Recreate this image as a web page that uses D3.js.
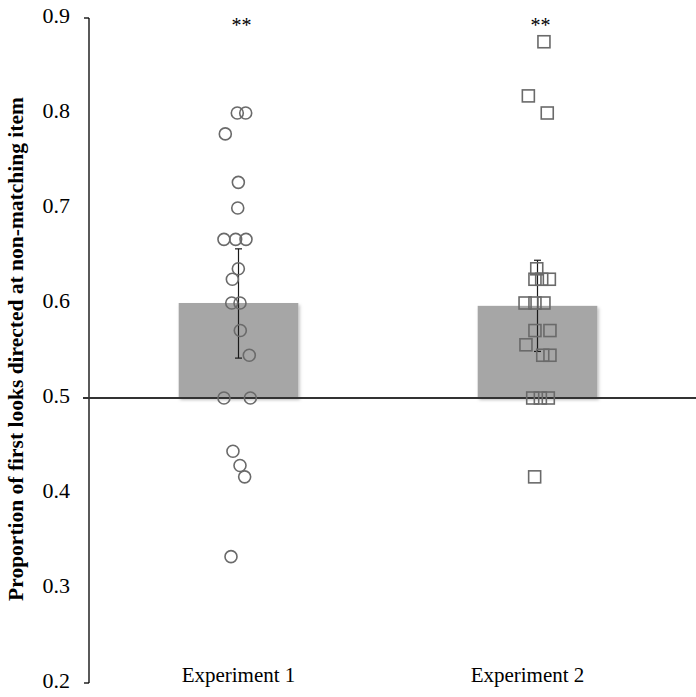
<!DOCTYPE html>
<html>
<head>
<meta charset="utf-8">
<script src="https://cdn.jsdelivr.net/npm/d3@7"></script>
<style>
  html, body { margin: 0; padding: 0; background: #fff; }
  svg { display: block; }
  svg text { font-family: "Liberation Serif", "Times New Roman", serif !important; }
</style>
</head>
<body>
<svg id="chart" width="696" height="697"></svg>
<script>
// ---- Data ----
const categories = ["Experiment 1", "Experiment 2"];
const barMeans = [0.600, 0.597];
const errLow = [0.542, 0.549];
const errHigh = [0.657, 0.645];
const significance = ["**", "**"];
const yTicks = [0.2, 0.3, 0.4, 0.5, 0.6, 0.7, 0.8, 0.9];
const chanceLevel = 0.5;

// Individual participant proportions (Experiment 1, circles)
const exp1Values = [0.800, 0.800, 0.778, 0.727, 0.700, 0.667, 0.667, 0.667, 0.636, 0.625,
                    0.600, 0.600, 0.571, 0.545, 0.500, 0.500, 0.444, 0.429, 0.417, 0.333];
// horizontal jitter in units of [-1, 1]
const exp1Jitter = [-0.08, 0.48, -0.88, -0.01, -0.05, -0.97, -0.19, 0.50, -0.01, -0.41,
                    -0.45, 0.10, 0.12, 0.72, -0.97, 0.79, -0.37, 0.10, 0.41, -0.50];

// Individual participant proportions (Experiment 2, squares)
const exp2Values = [0.875, 0.818, 0.800, 0.636, 0.625, 0.625, 0.625, 0.600, 0.600, 0.600,
                    0.571, 0.571, 0.556, 0.545, 0.545, 0.500, 0.500, 0.500, 0.417];
const exp2Jitter = [0.43, -0.61, 0.65, -0.05, -0.17, 0.28, 0.79, -0.83, -0.17, 0.43,
                    -0.17, 0.83, -0.77, 0.35, 0.83, -0.32, 0.19, 0.72, -0.19];

const yTitle = "Proportion of first looks directed at non-matching item";

// ---- Layout ----
const serif = "'Liberation Serif', 'Times New Roman', serif";
const svg = d3.select("#chart");
const axisX = 89;
const y = d3.scaleLinear().domain([0.2, 0.9]).range([683, 18]);
const x = d3.scaleBand().domain(categories).range([axisX, 687]).paddingInner(0.6).paddingOuter(0.3);
const jit = d3.scaleLinear().domain([-1, 1]).range([-15, 15]);

// shadow filter
const defs = svg.append("defs");
const f = defs.append("filter").attr("id", "shadow").attr("x", "-10%").attr("y", "-10%").attr("width", "130%").attr("height", "130%");
f.append("feDropShadow").attr("dx", 1.5).attr("dy", 2).attr("stdDeviation", 1.5)
  .attr("flood-color", "#000").attr("flood-opacity", 0.25);

// bars (from chance level to mean)
svg.append("g").selectAll("rect").data(categories).join("rect")
  .attr("x", d => x(d))
  .attr("width", x.bandwidth())
  .attr("y", (d, i) => y(Math.max(barMeans[i], chanceLevel)))
  .attr("height", (d, i) => Math.abs(y(barMeans[i]) - y(chanceLevel)))
  .attr("fill", "#a6a6a6")
  .attr("filter", "url(#shadow)");

// y axis
const yAxis = d3.axisLeft(y).tickValues(yTicks).tickSize(0).tickPadding(19)
  .tickFormat(d3.format(".1f"));
const gy = svg.append("g").attr("transform", `translate(${axisX},0)`).call(yAxis)
  .attr("font-family", serif).attr("font-size", 22);
gy.select(".domain").remove();
gy.selectAll("text").attr("fill", "#000").style("font-family", serif).style("font-size", "22px")
  .attr("dy", "0.2em");
gy.append("line").attr("x1", 0).attr("x2", 0).attr("y1", y(0.9)).attr("y2", y(0.2))
  .attr("stroke", "#000").attr("stroke-width", 1.3);
gy.selectAll(".endtick").data([0.9, 0.2]).join("line").attr("class", "endtick")
  .attr("x1", -5).attr("x2", 0).attr("y1", d => y(d)).attr("y2", d => y(d))
  .attr("stroke", "#000").attr("stroke-width", 1.3);

// error bars
const eb = svg.append("g").attr("stroke", "#1a1a1a").attr("stroke-width", 1.2);
categories.forEach((c, i) => {
  const cx = x(c) + x.bandwidth() / 2;
  eb.append("line").attr("x1", cx).attr("x2", cx).attr("y1", y(errHigh[i])).attr("y2", y(errLow[i]));
  eb.append("line").attr("x1", cx - 3.5).attr("x2", cx + 3.5).attr("y1", y(errHigh[i])).attr("y2", y(errHigh[i]));
  eb.append("line").attr("x1", cx - 3.5).attr("x2", cx + 3.5).attr("y1", y(errLow[i])).attr("y2", y(errLow[i]));
});

// chance line
svg.append("line").attr("x1", axisX - 6).attr("x2", 696)
  .attr("y1", y(chanceLevel)).attr("y2", y(chanceLevel))
  .attr("stroke", "#333").attr("stroke-width", 2.2);

// points
const c1 = x(categories[0]) + x.bandwidth() / 2;
const c2 = x(categories[1]) + x.bandwidth() / 2;
svg.append("g").selectAll("circle").data(exp1Values).join("circle")
  .attr("cx", (d, i) => c1 + jit(exp1Jitter[i]))
  .attr("cy", d => y(d))
  .attr("r", 6)
  .attr("fill", "none").attr("stroke", "#6a6a6a").attr("stroke-width", 1.6);
const s = 12;
svg.append("g").selectAll("rect").data(exp2Values).join("rect")
  .attr("x", (d, i) => c2 + jit(exp2Jitter[i]) - s / 2)
  .attr("y", d => y(d) - s / 2)
  .attr("width", s).attr("height", s)
  .attr("fill", "none").attr("stroke", "#6a6a6a").attr("stroke-width", 1.6);

// significance
svg.append("g").selectAll("text").data(categories).join("text")
  .attr("x", d => x(d) + x.bandwidth() / 2 + 3)
  .attr("y", 32)
  .attr("text-anchor", "middle").attr("font-size", 20).attr("fill", "#000")
  .style("font-family", serif)
  .text((d, i) => significance[i]);

// category labels
svg.append("g").selectAll("text").data(categories).join("text")
  .attr("x", (d, i) => x(d) + x.bandwidth() / 2 + (i === 1 ? -10 : 0))
  .attr("y", 682)
  .attr("text-anchor", "middle").attr("font-size", 21).attr("fill", "#000")
  .style("font-family", serif)
  .text(d => d);

// y title
svg.append("text")
  .attr("transform", `translate(23,349) rotate(-90)`)
  .attr("text-anchor", "middle").attr("font-size", 21.5).attr("font-weight", "bold").attr("fill", "#000")
  .style("font-family", serif)
  .text(yTitle);
</script>
</body>
</html>
